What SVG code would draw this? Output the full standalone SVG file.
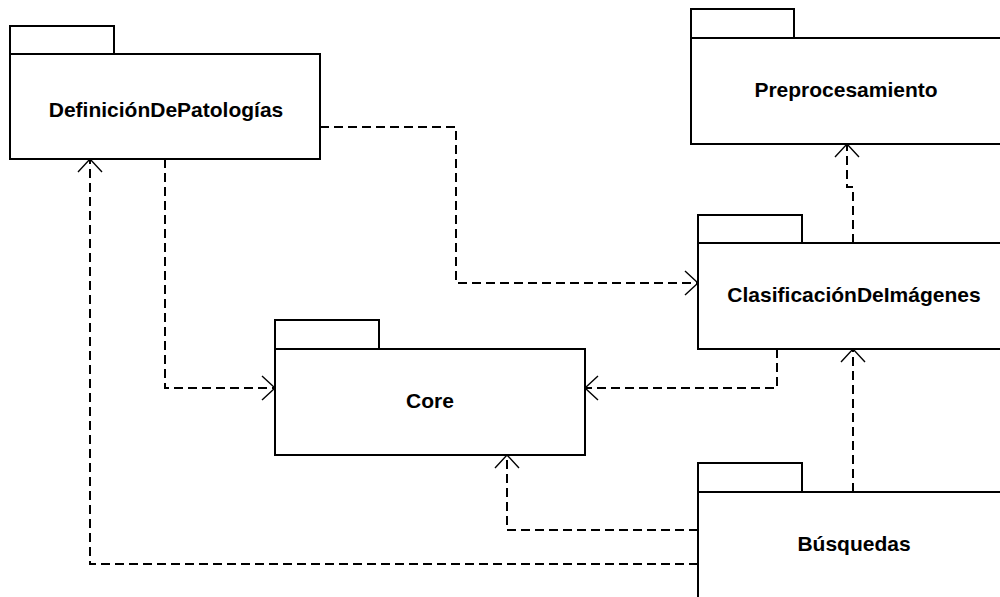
<svg xmlns="http://www.w3.org/2000/svg" width="1000" height="597" viewBox="0 0 1000 597">
  <style>
    .pkg rect { fill: #ffffff; stroke: #000000; stroke-width: 2; }
    .pkg text { font-family: "Liberation Sans", Arial, sans-serif; font-weight: bold; font-size: 21px; fill: #000000; text-anchor: middle; }
    .dep { fill: none; stroke: #000000; stroke-width: 2; stroke-dasharray: 9 5; marker-end: url(#open); }
  </style>
  <defs>
    <marker id="open" markerUnits="userSpaceOnUse" viewBox="-15 -14 17 28" refX="0" refY="0" markerWidth="17" markerHeight="28" orient="auto" overflow="visible">
      <path d="M-13,-12 L0,0 L-13,12" fill="none" stroke="#000000" stroke-width="1.4" stroke-dasharray="none"/>
    </marker>
  </defs>
  <rect width="1000" height="597" fill="#ffffff"/>

  <!-- packages -->
  <g id="definicion-de-patologias" class="pkg">
    <rect x="10" y="26" width="104" height="28"/>
    <rect x="10" y="54" width="310" height="105"/>
    <text x="166" y="116.5">DefiniciónDePatologías</text>
  </g>
  <g id="preprocesamiento" class="pkg">
    <rect x="691" y="9" width="103" height="29"/>
    <rect x="691" y="38" width="310" height="106"/>
    <text x="846" y="97">Preprocesamiento</text>
  </g>
  <g id="clasificacion-de-imagenes" class="pkg">
    <rect x="698" y="215" width="104" height="28"/>
    <rect x="698" y="243" width="312" height="106"/>
    <text x="854" y="301.5">ClasificaciónDeImágenes</text>
  </g>
  <g id="core" class="pkg">
    <rect x="275" y="320" width="104" height="29"/>
    <rect x="275" y="349" width="310" height="106"/>
    <text x="430" y="407.5">Core</text>
  </g>
  <g id="busquedas" class="pkg">
    <rect x="698" y="463" width="104" height="29"/>
    <rect x="698" y="492" width="312" height="120"/>
    <text x="854" y="550.5">Búsquedas</text>
  </g>

  <!-- dependencies -->
  <g id="connectors">
    <path class="dep" d="M320,127 H456 V283 H698"/>
    <path class="dep" d="M165,159 V388 H275"/>
    <path class="dep" d="M777,349 V388 H585"/>
    <path class="dep" d="M853,243 V187 H847 V144"/>
    <path class="dep" d="M853,492 V349"/>
    <path class="dep" d="M698,530 H507 V455"/>
    <path class="dep" d="M698,564 H90 V159"/>
  </g>
</svg>
